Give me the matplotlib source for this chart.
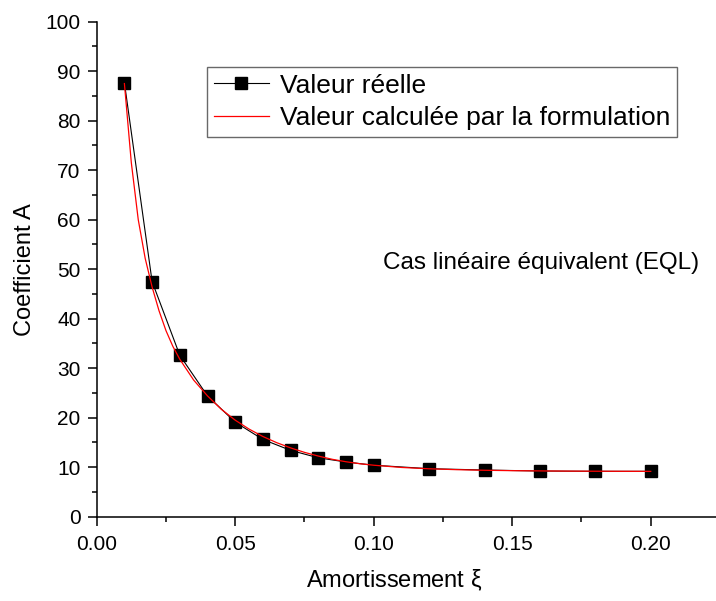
import numpy as np
import matplotlib
matplotlib.use("Agg")
from matplotlib import pyplot as plt
from matplotlib.ticker import MultipleLocator, FormatStrFormatter

plt.rcParams['font.family'] = ['Liberation Sans', 'DejaVu Sans']
plt.rcParams['mathtext.fontset'] = 'stix'

# valeurs mesurées
xi_reel = [0.01, 0.02, 0.03, 0.04, 0.05, 0.06, 0.07, 0.08, 0.09, 0.10,
           0.12, 0.14, 0.16, 0.18, 0.20]
A_reel = [87.7, 47.5, 32.6, 24.4, 19.1, 15.6, 13.4, 11.9, 11.05, 10.4,
          9.7, 9.43, 9.23, 9.17, 9.17]

# courbe de la formulation
xi_calc = [0.010, 0.0125, 0.015, 0.0175, 0.020, 0.0225, 0.025, 0.0275, 0.030,
           0.035, 0.040, 0.045, 0.050, 0.055, 0.060, 0.065, 0.070, 0.075,
           0.080, 0.085, 0.090, 0.095, 0.100, 0.110, 0.120, 0.130, 0.140,
           0.150, 0.160, 0.170, 0.180, 0.190, 0.200]
A_calc = [87.5, 71.5, 60.0, 52.2, 46.4, 41.6, 37.6, 34.4, 31.8,
          27.6, 24.4, 21.7, 19.5, 17.7, 16.2, 14.95, 13.9, 13.0,
          12.25, 11.6, 11.1, 10.7, 10.4, 9.95, 9.68, 9.5, 9.38,
          9.3, 9.25, 9.21, 9.19, 9.17, 9.16]

fig = plt.figure(figsize=(7.16, 6.01), dpi=100)
ax = fig.add_axes([96.7 / 716, 84.3 / 601, (720 - 96.7) / 716, 495 / 601])

ax.plot(xi_reel, A_reel, color='black', lw=0.8, marker='s', ms=8,
        label='Valeur réelle')
ax.plot(xi_calc, A_calc, color='red', lw=0.9,
        label='Valeur calculée par la formulation')

ax.set_xlim(0, 0.225)
ax.set_ylim(0, 100)
ax.xaxis.set_major_locator(MultipleLocator(0.05))
ax.xaxis.set_minor_locator(MultipleLocator(0.025))
ax.yaxis.set_major_locator(MultipleLocator(10))
ax.yaxis.set_minor_locator(MultipleLocator(5))
ax.xaxis.set_major_formatter(FormatStrFormatter('%.2f'))

for s in ['top', 'right']:
    ax.spines[s].set_visible(False)
for s in ['left', 'bottom']:
    ax.spines[s].set_linewidth(1.1)
ax.tick_params(which='major', length=6.5, width=1.1, labelsize=15)
ax.tick_params(which='minor', length=3.5, width=1.1)
ax.tick_params(axis='x', which='major', pad=7)
ax.tick_params(axis='y', which='major', pad=5)

ax.set_xlabel('Amortissement $\\mathregular{\\xi}$', fontsize=17, va='center')
ax.set_ylabel('Coefficient A', fontsize=17, va='center')
ax.xaxis.set_label_coords(0.477, -0.128)
ax.yaxis.set_label_coords(-0.115, 0.5)

ax.text(0.1033, 51.3, 'Cas linéaire équivalent (EQL)', fontsize=17.5,
        ha='left', va='center')

leg = ax.legend(loc='upper left', bbox_to_anchor=(207 / 716, 1 - 67 / 601),
                bbox_transform=fig.transFigure, fontsize=19, frameon=True,
                fancybox=False, edgecolor='#444444', borderpad=0.25,
                handlelength=2.1, handletextpad=0.4, labelspacing=0.33,
                borderaxespad=0)
leg.get_frame().set_linewidth(1.0)

fig.savefig('out.png', dpi=100)
